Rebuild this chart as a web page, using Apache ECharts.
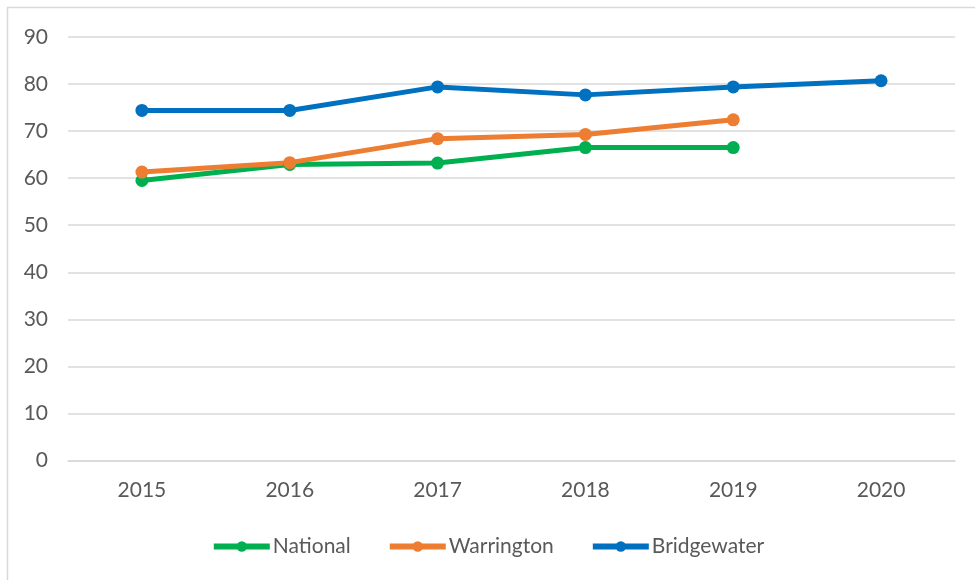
<!DOCTYPE html>
<html><head><meta charset="utf-8">
<script src="https://cdn.jsdelivr.net/npm/echarts@6/dist/echarts.min.js"></script>
<style>html,body{margin:0;padding:0;background:#fff}#c{width:975px;height:580px}</style>
</head><body><div id="c"></div>
<script>
const years = ['2015','2016','2017','2018','2019','2020'];
const national = [59.5, 62.9, 63.2, 66.5, 66.5, null];
const warrington = [61.3, 63.3, 68.4, 69.3, 72.4, null];
const bridgewater = [74.4, 74.4, 79.4, 77.7, 79.4, 80.7];
const seriesNames = ['National','Warrington','Bridgewater'];
const colors = ['#00B050','#ED7D31','#0070C0'];
const dataSets = [national, warrington, bridgewater];

const chart = echarts.init(document.getElementById('c'));
const font = 'Lato, "Open Sans", sans-serif';
chart.setOption({
  animation:false,
  graphic:[{type:'rect',shape:{x:7.5,y:7.5,width:1000,height:600},style:{fill:'none',stroke:'#d9d9d9',lineWidth:1.5}}],
  grid:{left:68,right:20,top:37,bottom:119.5},
  xAxis:{type:'category',data:years,boundaryGap:true,
    axisLine:{lineStyle:{color:'#d9d9d9',width:1.5}},axisTick:{show:false},
    axisLabel:{color:'#595959',fontSize:21,fontFamily:font,margin:19}},
  yAxis:{type:'value',min:0,max:90,interval:10,
    axisLine:{show:false},axisTick:{show:false},
    splitLine:{lineStyle:{color:'#d9d9d9',width:1.5}},
    axisLabel:{color:'#595959',fontSize:21,fontFamily:font,margin:20}},
  legend:{bottom:18,left:'center',itemWidth:56,itemHeight:13,itemGap:36,
    lineStyle:{width:6},
    textStyle:{color:'#595959',fontSize:21,fontFamily:font,padding:[0,0,0,-2]},
    data:seriesNames},
  series: seriesNames.map((n,i)=>({name:n,type:'line',data:dataSets[i],
    color:colors[i],symbol:'circle',symbolSize:13,
    lineStyle:{width:5,color:colors[i]},itemStyle:{color:colors[i]}}))
});
</script></body></html>
